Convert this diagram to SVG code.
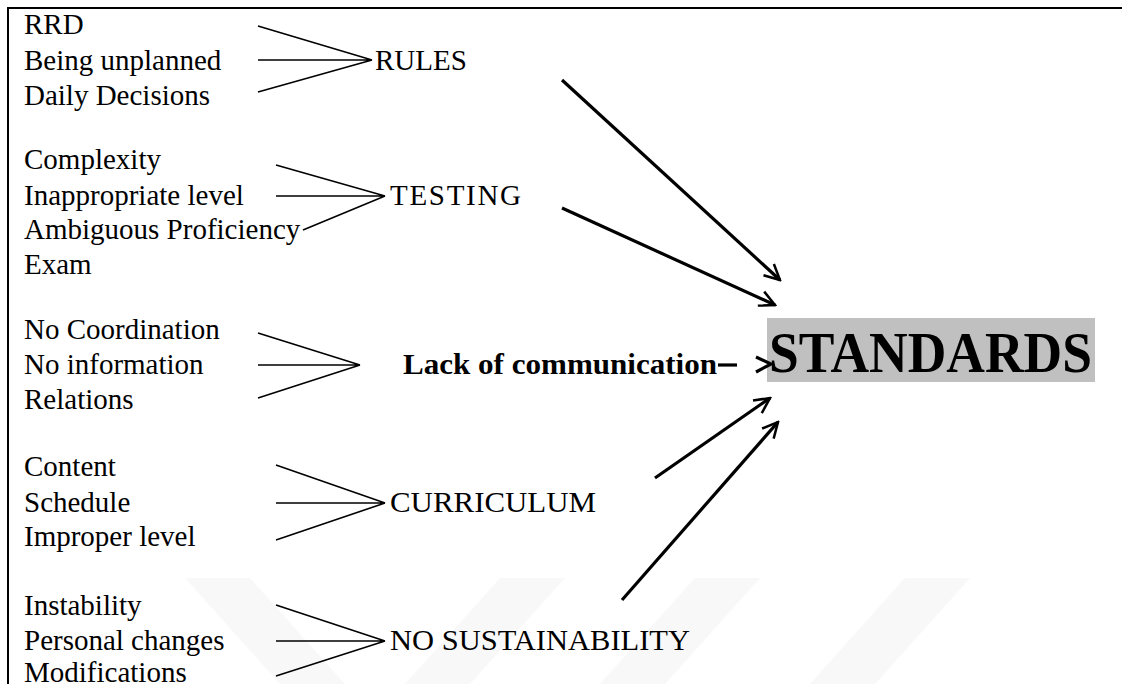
<svg xmlns="http://www.w3.org/2000/svg" width="1122" height="684" viewBox="0 0 1122 684">
<style>
text{font-family:'Liberation Serif',Tinos,'Times New Roman',Times,'DejaVu Serif',serif;font-size:29px;fill:#000}
.b{font-weight:bold}
.thin{stroke:#000;stroke-width:1.6;fill:none}
.thick{stroke:#000;stroke-width:3.2;fill:none;marker-end:url(#ah)}
.wm{fill:#f8f8f8}
</style>
<defs>
<marker id="ah" viewBox="0 0 20 20" refX="18" refY="10" markerWidth="6" markerHeight="6" orient="auto" markerUnits="strokeWidth">
<path d="M2,2 L18,10 L2,18" fill="none" stroke="#000" stroke-width="2.6"/>
</marker>
</defs>
<rect width="1122" height="684" fill="#fff"/>
<g id="watermark">
<polygon class="wm" points="185,578 250,578 345,684 280,684"/>
<polygon class="wm" points="500,578 565,578 470,684 405,684"/>
<polygon class="wm" points="695,578 760,578 665,684 600,684"/>
<polygon class="wm" points="905,578 970,578 875,684 810,684"/>
</g>
<g id="frame">
<path d="M8,684 V8 H1122" stroke="#000" stroke-width="2" fill="none"/>
</g>
<g id="rules-group" font-family="Liberation Serif, serif">
<text x="24" y="34">RRD</text>
<text x="24" y="70">Being unplanned</text>
<text x="24" y="105">Daily Decisions</text>
<text x="375" y="70">RULES</text>
</g>
<g id="testing-group" font-family="Liberation Serif, serif">
<text x="24" y="169">Complexity</text>
<text x="24" y="205">Inappropriate level</text>
<text x="24" y="239">Ambiguous Proficiency</text>
<text x="24" y="274">Exam</text>
<text x="390" y="205" textLength="131">TESTING</text>
</g>
<g id="communication-group" font-family="Liberation Serif, serif">
<text x="24" y="339">No Coordination</text>
<text x="24" y="374">No information</text>
<text x="24" y="409">Relations</text>
<text class="b" x="403" y="374" style="font-size:30px" textLength="314" lengthAdjust="spacingAndGlyphs">Lack of communication</text>
</g>
<g id="curriculum-group" font-family="Liberation Serif, serif">
<text x="24" y="476">Content</text>
<text x="24" y="512">Schedule</text>
<text x="24" y="546">Improper level</text>
<text x="390" y="512" textLength="206" lengthAdjust="spacingAndGlyphs">CURRICULUM</text>
</g>
<g id="sustainability-group" font-family="Liberation Serif, serif">
<text x="24" y="615">Instability</text>
<text x="24" y="650">Personal changes</text>
<text x="24" y="682">Modifications</text>
<text x="390" y="650" textLength="300" lengthAdjust="spacingAndGlyphs">NO SUSTAINABILITY</text>
</g>
<g id="standards" font-family="Liberation Serif, serif">
<rect x="767" y="318" width="328" height="64" fill="#c0c0c0"/>
<text class="b" x="769" y="372" style="font-size:56px" textLength="323" lengthAdjust="spacingAndGlyphs">STANDARDS</text>
</g>
<g id="connectors">
<path class="thin" d="M258,26 L372,60 M258,60 L372,60 M258,92 L372,60"/>
<path class="thin" d="M276,165 L385,196 M276,196 L385,196 M303,230 L385,196"/>
<path class="thin" d="M258,333 L360,365 M258,365 L360,365 M258,398 L360,365"/>
<path class="thin" d="M276,465 L385,503 M276,503 L385,503 M276,540 L385,503"/>
<path class="thin" d="M276,605 L385,641 M276,641 L385,641 M276,676 L385,641"/>
<line class="thick" x1="562" y1="80" x2="780" y2="280"/>
<line class="thick" x1="562" y1="208" x2="775" y2="305"/>
<line x1="718" y1="365" x2="737" y2="365" stroke="#000" stroke-width="3.2"/>
<path d="M756,357 L771,364 L756,372" fill="none" stroke="#000" stroke-width="3.2"/>
<line class="thick" x1="655" y1="478" x2="770" y2="398"/>
<line class="thick" x1="622" y1="600" x2="778" y2="422"/>
</g>
</svg>
